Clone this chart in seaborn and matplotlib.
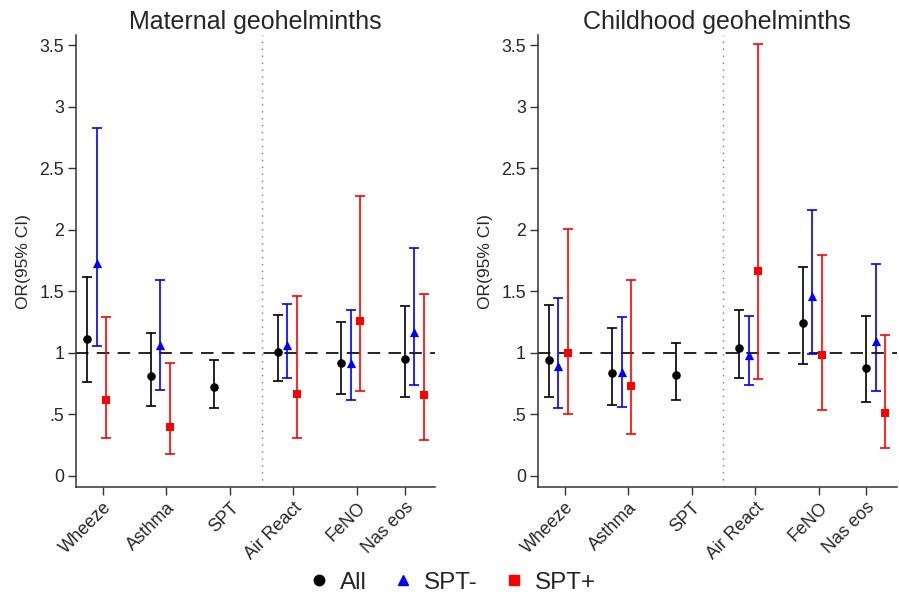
import pandas as pd
import numpy as np
import matplotlib
matplotlib.use("Agg")
import matplotlib.pyplot as plt
import seaborn as sns
from matplotlib.lines import Line2D

outcomes = ["Wheeze", "Asthma", "SPT", "Air React", "FeNO", "Nas eos"]
groups = ["All", "SPT-", "SPT+"]

# Maternal geohelminths: OR, lower CI, upper CI (nan = not estimated)
mat_all_or = [1.11, 0.81, 0.72, 1.01, 0.92, 0.95]
mat_all_lo = [0.76, 0.57, 0.55, 0.77, 0.67, 0.64]
mat_all_hi = [1.62, 1.16, 0.94, 1.31, 1.25, 1.38]
mat_neg_or = [1.73, 1.065, np.nan, 1.065, 0.915, 1.17]
mat_neg_lo = [1.06, 0.70, np.nan, 0.80, 0.62, 0.74]
mat_neg_hi = [2.83, 1.59, np.nan, 1.40, 1.35, 1.85]
mat_pos_or = [0.62, 0.40, np.nan, 0.67, 1.26, 0.66]
mat_pos_lo = [0.31, 0.18, np.nan, 0.31, 0.69, 0.29]
mat_pos_hi = [1.29, 0.92, np.nan, 1.46, 2.28, 1.48]

# Childhood geohelminths
chi_all_or = [0.94, 0.84, 0.82, 1.04, 1.24, 0.88]
chi_all_lo = [0.64, 0.58, 0.62, 0.80, 0.91, 0.60]
chi_all_hi = [1.39, 1.20, 1.08, 1.35, 1.70, 1.30]
chi_neg_or = [0.89, 0.845, np.nan, 0.985, 1.46, 1.095]
chi_neg_lo = [0.55, 0.56, np.nan, 0.74, 0.99, 0.69]
chi_neg_hi = [1.45, 1.29, np.nan, 1.30, 2.16, 1.72]
chi_pos_or = [1.00, 0.73, np.nan, 1.67, 0.98, 0.51]
chi_pos_lo = [0.50, 0.34, np.nan, 0.79, 0.54, 0.23]
chi_pos_hi = [2.01, 1.59, np.nan, 3.51, 1.80, 1.15]

yticks = [0, 0.5, 1, 1.5, 2, 2.5, 3, 3.5]
ytick_labels = ["0", ".5", "1", "1.5", "2", "2.5", "3", "3.5"]


def build(name, series):
    rows = []
    for g, (o, lo, hi) in zip(groups, series):
        for i, lab in enumerate(outcomes):
            rows.append({"panel": name, "group": g, "outcome": lab, "idx": i,
                         "OR": o[i], "lo": lo[i], "hi": hi[i]})
    return pd.DataFrame(rows)


df = pd.concat([
    build("Maternal geohelminths", [(mat_all_or, mat_all_lo, mat_all_hi),
                                    (mat_neg_or, mat_neg_lo, mat_neg_hi),
                                    (mat_pos_or, mat_pos_lo, mat_pos_hi)]),
    build("Childhood geohelminths", [(chi_all_or, chi_all_lo, chi_all_hi),
                                     (chi_neg_or, chi_neg_lo, chi_neg_hi),
                                     (chi_pos_or, chi_pos_lo, chi_pos_hi)]),
], ignore_index=True)

sns.set_theme(style="ticks")
plt.rcParams["font.family"] = ["Liberation Sans", "DejaVu Sans"]

colors = {"All": "#000000", "SPT-": "#0000ff", "SPT+": "#ff0000"}
markers = {"All": "o", "SPT-": "^", "SPT+": "s"}
msize = {"All": 38, "SPT-": 44, "SPT+": 30}
offset = {"All": 0.0, "SPT-": 0.15, "SPT+": 0.30}

fig = plt.figure(figsize=(8.99, 5.96), dpi=100)
positions = [[0.0845, 0.1824, 0.3994, 0.7589], [0.598, 0.1824, 0.3995, 0.7589]]

for pos, panel in zip(positions, ["Maternal geohelminths", "Childhood geohelminths"]):
    ax = fig.add_axes(pos)
    sub = df[df["panel"] == panel].dropna(subset=["OR"]).copy()
    sub["x"] = sub["idx"] + 1 + sub["group"].map(offset)

    ax.axhline(1, color="black", lw=1.2, dashes=(7.5, 5), zorder=1)
    ax.axvline(3.75, color="#777777", lw=1.0, dashes=(1, 4), zorder=1)

    for g in groups:
        d = sub[sub["group"] == g]
        ax.errorbar(d["x"], d["OR"], yerr=[d["OR"] - d["lo"], d["hi"] - d["OR"]],
                    fmt="none", ecolor=colors[g], elinewidth=1.2, capsize=3.4,
                    capthick=1.2, zorder=2)
        sns.scatterplot(data=d, x="x", y="OR", color=colors[g], marker=markers[g],
                        s=msize[g], linewidth=0, ax=ax, zorder=3)

    ax.set_xlim(0.825, 6.48)
    ax.set_ylim(-0.092, 3.585)
    ax.set_xticks([1.25, 2.25, 3.25, 4.25, 5.25, 6.0])
    ax.set_xticklabels(outcomes, rotation=45, ha="right", rotation_mode="anchor",
                       fontsize=12.8)
    ax.set_yticks(yticks)
    ax.set_yticklabels(ytick_labels, fontsize=12.8)
    ax.tick_params(axis="both", length=5.5, width=1.0, color="#333333", pad=3)
    ax.set_xlabel("")
    ax.set_ylabel("OR(95% CI)", fontsize=12.5, labelpad=6)
    ax.set_title(panel, fontsize=18, pad=4)
    for s in ["top", "right"]:
        ax.spines[s].set_visible(False)
    for s in ["left", "bottom"]:
        ax.spines[s].set_color("#333333")
        ax.spines[s].set_linewidth(1.1)

handles = [Line2D([], [], linestyle="none", marker=markers[g], color=colors[g],
                  markersize=7.5 if g != "SPT+" else 6.5) for g in groups]
fig.legend(handles, groups, loc="center", bbox_to_anchor=(0.502, 0.022), ncol=3,
           frameon=False, fontsize=17.5, handletextpad=0.35, columnspacing=1.0,
           handlelength=1.0)

fig.savefig("out.png", dpi=100)
